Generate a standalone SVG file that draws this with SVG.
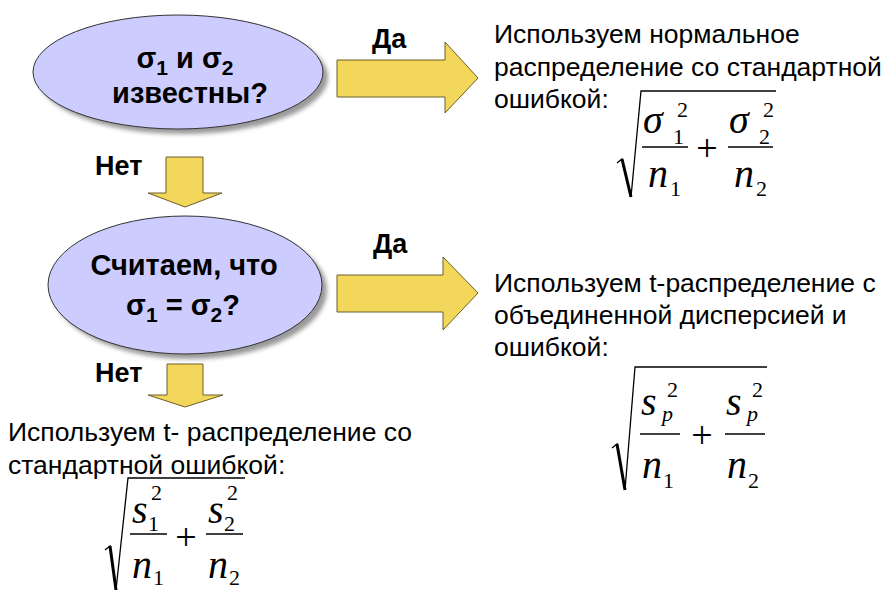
<svg xmlns="http://www.w3.org/2000/svg" width="883" height="590" viewBox="0 0 883 590">
<defs>
<filter id="blur" x="-10%" y="-10%" width="120%" height="130%"><feGaussianBlur stdDeviation="2"/></filter>
<style>
.shadow{fill:#9a9a9a;filter:url(#blur)}
.ell{fill:#CCCCFF;stroke:#333;stroke-width:1}
.q{font-family:"Liberation Sans",Arial,sans-serif;font-weight:bold;font-size:29px;fill:#000;text-anchor:middle}
.lbl{font-family:"Liberation Sans",Arial,sans-serif;font-weight:bold;font-size:27px;fill:#000}
.body{font-family:"Liberation Sans",Arial,sans-serif;font-size:26.5px;fill:#000}
.arrow{fill:#F3D75B;stroke:#6b5e2a;stroke-width:1}
.m{font-family:"Liberation Serif","Times New Roman",serif;font-style:italic;font-size:40px;fill:#000}
.ms{font-family:"Liberation Serif","Times New Roman",serif;font-size:22px;fill:#000}
.mi{font-family:"Liberation Serif","Times New Roman",serif;font-style:italic;font-size:22px;fill:#000}
.pl{font-family:"Liberation Serif","Times New Roman",serif;font-size:38px;fill:#000;text-anchor:middle}
.rad{fill:none;stroke:#000;stroke-width:1.3}
.radk{stroke:#000;stroke-width:3}
.bar{stroke:#000;stroke-width:1.3}
</style>
</defs>
<rect width="883" height="590" fill="#fff"/>

<g id="connectors">
<path class="arrow" d="M337,60 H445 V42 L478,78 L445,113 V97 H337 Z"/>
<path class="arrow" d="M337,275 H443 V257 L478,293 L443,330 V312 H337 Z"/>
<path class="arrow" d="M166,157 H203 V193 H222 L185,207 L148,193 H166 Z"/>
<path class="arrow" d="M167,364 H203 V395 H223 L185,407 L148,395 H167 Z"/>
<text class="lbl" x="372" y="48">Да</text>
<text class="lbl" x="373" y="253">Да</text>
<text class="lbl" x="95" y="175">Нет</text>
<text class="lbl" x="95" y="382">Нет</text>
</g>

<g id="q1">
<ellipse class="shadow" cx="183" cy="77" rx="145" ry="57"/>
<ellipse class="ell" cx="178" cy="72" rx="145" ry="57"/>
<text class="q" x="185" y="68" font-size="31">σ<tspan font-size="21" dy="7">1</tspan><tspan dy="-7"> и σ</tspan><tspan font-size="21" dy="7">2</tspan></text>
<text class="q" x="190" y="103">известны?</text>
</g>

<g id="q2">
<ellipse class="shadow" cx="190" cy="290" rx="137" ry="69"/>
<ellipse class="ell" cx="185" cy="285" rx="137" ry="69"/>
<text class="q" x="184" y="275">Считаем, что</text>
<text class="q" x="183" y="315">σ<tspan font-size="21" dy="7">1</tspan><tspan dy="-7"> = σ</tspan><tspan font-size="21" dy="7">2</tspan><tspan dy="-7">?</tspan></text>
</g>

<g id="r1">
<text class="body" x="494" y="43">Используем нормальное</text>
<text class="body" x="494" y="76">распределение со стандартной</text>
<text class="body" x="494" y="108">ошибкой:</text>
<path class="rad" d="M617,163 L622,159 L631,197 L641,91 H776"/>
<line class="radk" x1="622" y1="159" x2="631" y2="197"/>
<text class="m" x="643" y="133" font-size="45">σ</text>
<text class="ms" x="673" y="144">1</text>
<text class="ms" x="677" y="117">2</text>
<line class="bar" x1="642" y1="147" x2="688" y2="147"/>
<text class="m" x="648" y="187">n</text>
<text class="ms" x="670" y="196">1</text>
<text class="pl" x="707" y="161">+</text>
<text class="m" x="729" y="133" font-size="45">σ</text>
<text class="ms" x="759" y="144">2</text>
<text class="ms" x="763" y="117">2</text>
<line class="bar" x1="728" y1="147" x2="773" y2="147"/>
<text class="m" x="734" y="187">n</text>
<text class="ms" x="756" y="196">2</text>
</g>

<g id="r2">
<text class="body" x="494" y="292">Используем t-распределение с</text>
<text class="body" x="494" y="324">объединенной дисперсией и</text>
<text class="body" x="494" y="356">ошибкой:</text>
<path class="rad" d="M612,448 L617,444 L625,490 L635,367 H767"/>
<line class="radk" x1="617" y1="444" x2="625" y2="490"/>
<text class="m" x="641" y="415">s</text>
<text class="ms" x="667" y="397">2</text>
<text class="mi" x="662" y="421">p</text>
<line class="bar" x1="640" y1="434" x2="680" y2="434"/>
<text class="m" x="642" y="478">n</text>
<text class="ms" x="663" y="488">1</text>
<text class="pl" x="702" y="448">+</text>
<text class="m" x="726" y="415">s</text>
<text class="ms" x="752" y="397">2</text>
<text class="mi" x="747" y="421">p</text>
<line class="bar" x1="725" y1="434" x2="765" y2="434"/>
<text class="m" x="727" y="478">n</text>
<text class="ms" x="748" y="488">2</text>
</g>

<g id="r3">
<text class="body" x="8" y="441">Используем t- распределение со</text>
<text class="body" x="8" y="474">стандартной ошибкой:</text>
<path class="rad" d="M105,550 L110,546 L116,590 L128,478 H245"/>
<line class="radk" x1="110" y1="546" x2="116" y2="590"/>
<text class="m" x="132" y="523" font-size="38">s</text>
<text class="ms" x="148" y="531" font-size="21">1</text>
<text class="ms" x="151" y="500" font-size="21">2</text>
<line class="bar" x1="130" y1="534" x2="167" y2="534"/>
<text class="m" x="132" y="578" font-size="38">n</text>
<text class="ms" x="153" y="585" font-size="21">1</text>
<text class="pl" x="186" y="550" font-size="36">+</text>
<text class="m" x="208" y="523" font-size="38">s</text>
<text class="ms" x="224" y="531" font-size="21">2</text>
<text class="ms" x="227" y="500" font-size="21">2</text>
<line class="bar" x1="206" y1="534" x2="243" y2="534"/>
<text class="m" x="208" y="578" font-size="38">n</text>
<text class="ms" x="229" y="585" font-size="21">2</text>
</g>
</svg>
